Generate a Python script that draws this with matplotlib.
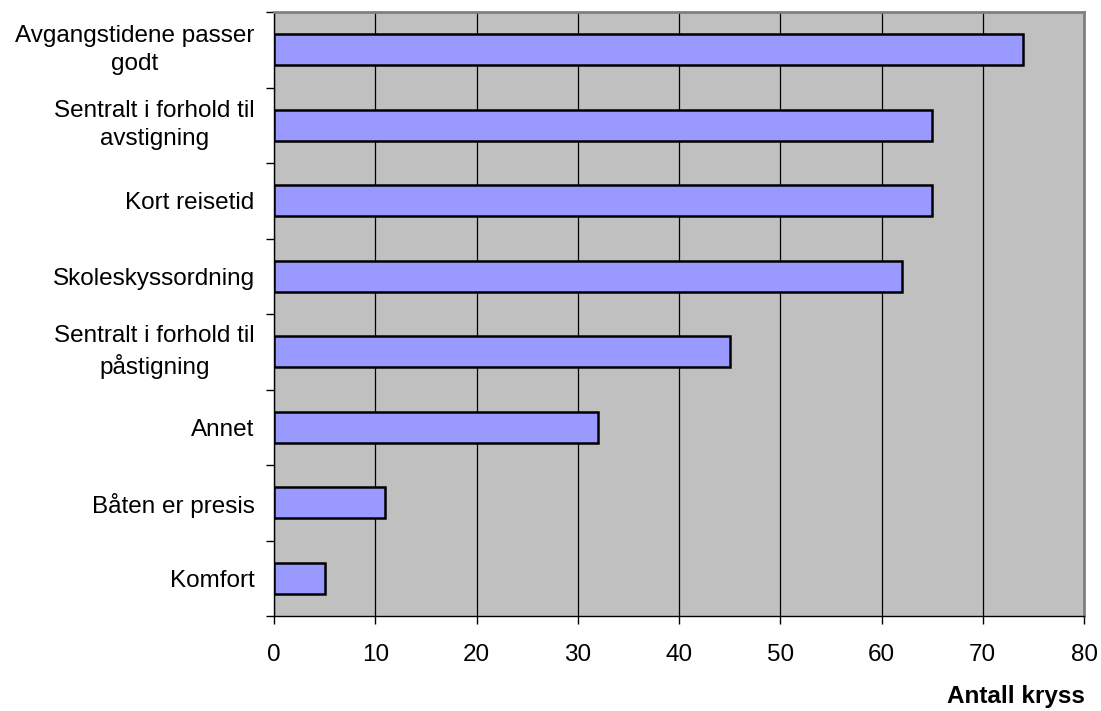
import matplotlib
matplotlib.use("Agg")
import matplotlib.pyplot as plt
from matplotlib.ticker import FixedLocator, NullFormatter

categories = [
    "Avgangstidene passer\ngodt",
    "Sentralt i forhold til\navstigning",
    "Kort reisetid",
    "Skoleskyssordning",
    "Sentralt i forhold til\npåstigning",
    "Annet",
    "Båten er presis",
    "Komfort",
]
values = [74, 65, 65, 62, 45, 32, 11, 5]
x_ticks = [0, 10, 20, 30, 40, 50, 60, 70, 80]

plt.rcParams["font.family"] = ["Liberation Sans", "DejaVu Sans"]
FS = 17.5

fig = plt.figure(figsize=(11.01, 7.11), dpi=100)
ax = fig.add_axes([274 / 1101, (711 - 616) / 711, (1084 - 274) / 1101, (616 - 12) / 711])
ax.set_facecolor("#C0C0C0")

n = len(categories)
ypos = list(range(n))[::-1]
ax.barh(ypos, values, height=0.41, color="#9999FF", edgecolor="black", linewidth=1.8, zorder=3)

ax.set_xlim(0, 80)
ax.set_ylim(-0.5, n - 0.5)
ax.set_xticks(x_ticks)
ax.set_xticklabels([str(t) for t in x_ticks], fontsize=FS)
ax.xaxis.grid(True, color="black", linewidth=0.9, zorder=1)
ax.set_axisbelow(True)

ax.set_yticks(ypos)
ax.set_yticklabels(categories, fontsize=FS, multialignment="center", linespacing=1.35)
for lbl in ax.get_yticklabels():
    if "\n" in lbl.get_text():
        lbl.set_verticalalignment("center")
ax.tick_params(axis="y", which="major", length=0, pad=14)
ax.yaxis.set_minor_locator(FixedLocator([i - 0.5 for i in range(n + 1)]))
ax.yaxis.set_minor_formatter(NullFormatter())
ax.tick_params(axis="y", which="minor", length=6, width=1, color="black", direction="out")
ax.tick_params(axis="x", which="major", length=6, width=1, direction="out", pad=14)

for side in ("top", "right"):
    ax.spines[side].set_color("#808080")
    ax.spines[side].set_linewidth(2)
for side in ("left", "bottom"):
    ax.spines[side].set_color("black")
    ax.spines[side].set_linewidth(1)

fig.text(1085 / 1101, 1 - 697 / 711, "Antall kryss", ha="right", va="center",
         fontsize=FS, fontweight="bold")

fig.savefig("out.png", dpi=100, facecolor="white")
